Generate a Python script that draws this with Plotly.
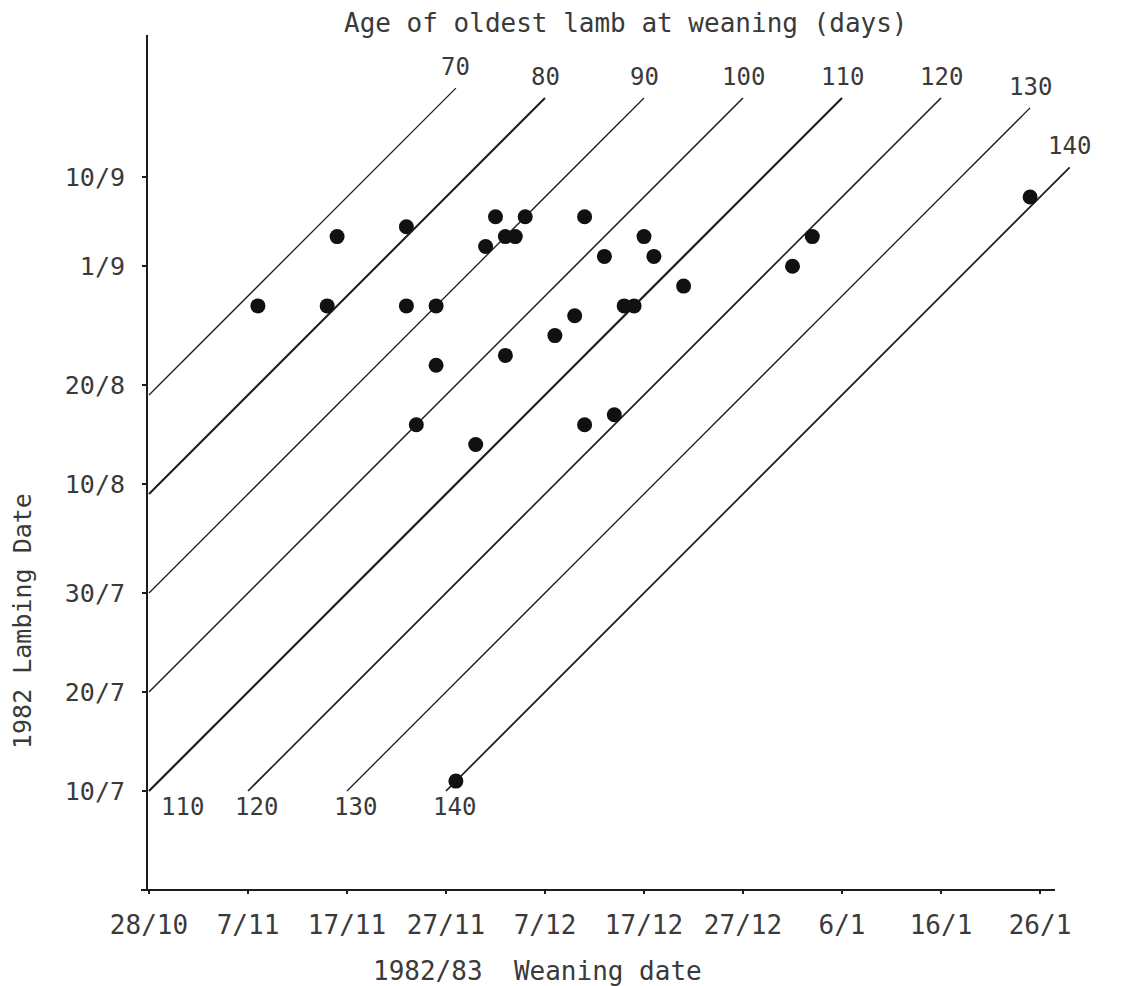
import pandas as pd
import plotly.graph_objects as go

# ---- data -----------------------------------------------------------------
# Weaning date and lambing date of each flock, 1982/83 season
weaning_dates = ["1982-11-08", "1982-11-15", "1982-11-16", "1982-11-23", "1982-11-23",
                 "1982-11-26", "1982-11-26", "1982-11-24", "1982-11-30", "1982-12-02",
                 "1982-12-05", "1982-12-03", "1982-12-04", "1982-12-01", "1982-12-03",
                 "1982-12-08", "1982-12-10", "1982-12-11", "1982-12-13", "1982-12-11",
                 "1982-12-14", "1982-12-15", "1982-12-16", "1982-12-17", "1982-12-18",
                 "1982-12-21", "1983-01-01", "1983-01-03", "1983-01-25", "1982-11-28"]
lambing_dates = ["1982-08-28", "1982-08-28", "1982-09-04", "1982-09-05", "1982-08-28",
                 "1982-08-28", "1982-08-22", "1982-08-16", "1982-08-14", "1982-09-06",
                 "1982-09-06", "1982-09-04", "1982-09-04", "1982-09-03", "1982-08-23",
                 "1982-08-25", "1982-08-27", "1982-09-06", "1982-09-02", "1982-08-16",
                 "1982-08-17", "1982-08-28", "1982-08-28", "1982-09-04", "1982-09-02",
                 "1982-08-30", "1982-09-01", "1982-09-04", "1982-09-08", "1982-07-11"]

# Iso-age lines: age of oldest lamb at weaning (days), and the lambing date
# at which each line stops at the top of the chart
ages = [70, 80, 90, 100, 110, 120, 130, 140]
line_end_lambing = ["1982-09-19", "1982-09-18", "1982-09-18", "1982-09-18",
                    "1982-09-18", "1982-09-18", "1982-09-17", "1982-09-11"]

# Axis ticks
x_tick_dates = ["1982-10-28", "1982-11-07", "1982-11-17", "1982-11-27", "1982-12-07",
                "1982-12-17", "1982-12-27", "1983-01-06", "1983-01-16", "1983-01-26"]
x_tick_labels = ["28/10", "7/11", "17/11", "27/11", "7/12",
                 "17/12", "27/12", "6/1", "16/1", "26/1"]
y_tick_dates = ["1982-07-10", "1982-07-20", "1982-07-30", "1982-08-10",
                "1982-08-20", "1982-09-01", "1982-09-10"]
y_tick_labels = ["10/7", "20/7", "30/7", "10/8", "20/8", "1/9", "10/9"]

# ---- styling --------------------------------------------------------------
FONT = "DejaVu Sans Mono"
INK = "#3a3a3a"
LINE = "#1c1c1c"
W, H = 1136, 986
ML, MR, MT, MB = 148, 11, 35, 96
PX_PER_DAY = 9.9
Y_ORIGIN_PX = 791  # vertical pixel of the first lambing tick

x_origin = pd.Timestamp(x_tick_dates[0])
y_origin = pd.Timestamp(y_tick_dates[0])
plot_w = W - ML - MR
plot_h = H - MT - MB


def fmt(ts):
    return ts.strftime("%Y-%m-%d %H:%M:%S")


x_range = [fmt(x_origin - pd.Timedelta(days=1 / PX_PER_DAY)),
           fmt(x_origin + pd.Timedelta(days=(plot_w - 1) / PX_PER_DAY))]
y_range = [fmt(y_origin - pd.Timedelta(days=(plot_h - (Y_ORIGIN_PX - MT)) / PX_PER_DAY)),
           fmt(y_origin + pd.Timedelta(days=(Y_ORIGIN_PX - MT) / PX_PER_DAY))]

line_widths = {70: 1.3, 80: 2.0, 90: 1.3, 100: 1.5, 110: 2.2, 120: 1.6, 130: 1.3, 140: 1.7}

fig = go.Figure()

annotations = []
season_start = pd.Timestamp(x_tick_dates[0])
earliest_lambing = pd.Timestamp(y_tick_dates[0])

for age, end_lamb in zip(ages, line_end_lambing):
    age_td = pd.Timedelta(days=age)
    start_wean = max(season_start, earliest_lambing + age_td)
    start_lamb = start_wean - age_td
    end_lamb_ts = pd.Timestamp(end_lamb)
    end_wean = end_lamb_ts + age_td
    fig.add_trace(go.Scatter(
        x=[start_wean, end_wean], y=[start_lamb, end_lamb_ts],
        mode="lines", line=dict(color=LINE, width=line_widths[age]),
        hoverinfo="skip", showlegend=False))
    # label at the top end of the line
    annotations.append(dict(
        x=end_wean, y=end_lamb_ts, xref="x", yref="y", text=str(age),
        showarrow=False, xanchor="center", yanchor="middle",
        xshift=0, yshift=21, font=dict(family=FONT, size=24, color=INK)))
    # label at the lower end for lines starting on the bottom row
    if start_lamb == earliest_lambing:
        annotations.append(dict(
            x=start_wean, y=start_lamb, xref="x", yref="y", text=str(age),
            showarrow=False, xanchor="center", yanchor="middle",
            xshift=33 if start_wean == season_start else 8, yshift=-16,
            font=dict(family=FONT, size=24, color=INK)))

fig.add_trace(go.Scatter(
    x=pd.to_datetime(weaning_dates), y=pd.to_datetime(lambing_dates),
    mode="markers", marker=dict(size=15, color="#111111"),
    showlegend=False))

# axis titles
annotations.append(dict(
    text="Age of oldest lamb at weaning (days)", xref="paper", yref="paper",
    x=(626 - ML) / plot_w, y=1 + (MT - 23) / plot_h, showarrow=False,
    xanchor="center", yanchor="middle", font=dict(family=FONT, size=26, color=INK)))
annotations.append(dict(
    text="1982/83\u00a0\u00a0Weaning date", xref="paper", yref="paper",
    x=(537 - ML) / plot_w, y=-(971 - (H - MB)) / plot_h, showarrow=False,
    xanchor="center", yanchor="middle", font=dict(family=FONT, size=26, color=INK)))
annotations.append(dict(
    text="1982 Lambing Date", xref="paper", yref="paper", textangle=-90,
    x=(22 - ML) / plot_w, y=((H - MB) - 621) / plot_h, showarrow=False,
    xanchor="center", yanchor="middle", font=dict(family=FONT, size=25, color=INK)))

fig.update_layout(
    width=W, height=H,
    margin=dict(l=ML, r=MR, t=MT, b=MB),
    paper_bgcolor="white", plot_bgcolor="white",
    showlegend=False,
    annotations=annotations,
    shapes=[dict(type="line", xref="paper", yref="paper",
                 x0=(141 - ML) / plot_w, x1=(1055 - ML) / plot_w, y0=0, y1=0,
                 line=dict(color=LINE, width=2))],
    xaxis=dict(type="date", range=x_range, showgrid=False, zeroline=False,
               showline=False, tickmode="array", tickvals=x_tick_dates,
               ticktext=x_tick_labels, ticks="outside", ticklen=3, tickwidth=2,
               tickcolor=LINE, ticklabelstandoff=9,
               tickfont=dict(family=FONT, size=26, color=INK)),
    yaxis=dict(type="date", range=y_range, showgrid=False, zeroline=False,
               showline=True, linecolor=LINE, linewidth=2,
               tickmode="array", tickvals=y_tick_dates, ticktext=y_tick_labels,
               ticks="outside", ticklen=4, tickwidth=2, tickcolor=LINE,
               ticklabelstandoff=12,
               tickfont=dict(family=FONT, size=25, color=INK)),
)

fig.write_html("out.html")
